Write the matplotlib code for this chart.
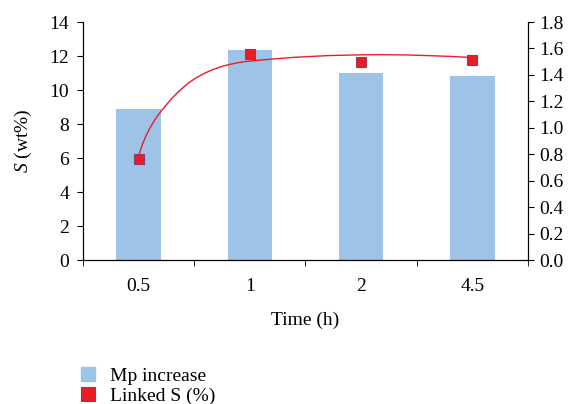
import matplotlib
matplotlib.use('Agg')
import matplotlib.pyplot as plt
from matplotlib.lines import Line2D

plt.rcParams['font.family'] = ['Liberation Serif', 'DejaVu Serif']
plt.rcParams['font.size'] = 14
plt.rcParams['mathtext.fontset'] = 'custom'
plt.rcParams['mathtext.it'] = 'Liberation Serif:italic'
plt.rcParams['mathtext.rm'] = 'Liberation Serif'

# Data
times = ['0.5', '1', '2', '4.5']
mp_increase = [8.88, 12.35, 11.02, 10.82]
linked_s = [0.765, 1.558, 1.50, 1.51]

# Trend curve at several points
curve_x = [0.0, 0.033, 0.064, 0.093, 0.138, 0.183, 0.228, 0.291, 0.36, 0.441,
           0.51, 0.591, 0.66, 0.741, 0.81, 0.891, 0.96, 1.04, 1.19,
           1.40, 1.70, 1.95, 2.15, 2.40, 2.60, 2.80, 2.96, 3.0]
curve_y = [0.787, 0.872, 0.935, 0.985, 1.050, 1.105, 1.152, 1.216, 1.275, 1.334,
           1.374, 1.412, 1.438, 1.462, 1.478, 1.492, 1.501, 1.508, 1.519,
           1.533, 1.546, 1.551, 1.553, 1.551, 1.546, 1.540, 1.533, 1.53]

bar_color = '#9DC3E6'
red = '#EC1C24'
edge = '#8E3A68'

fig = plt.figure(figsize=(5.68, 4.04), dpi=100)
ax = fig.add_axes([0.1461, 0.3564, 0.7834, 0.5891])

x = range(len(times))
ax.bar(x, mp_increase, width=0.4, color=bar_color, zorder=1)
ax.set_xlim(-0.5, 3.5)
ax.set_ylim(0, 14)
ax.set_yticks(range(0, 15, 2))
ax.set_xticks(list(x))
ax.set_xticklabels(times)
ax.set_xticks([-0.5, 0.5, 1.5, 2.5, 3.5], minor=True)
ax.tick_params(axis='x', which='major', length=0, pad=13)
ax.tick_params(axis='x', which='minor', length=4, direction='out')
ax.tick_params(axis='y', length=4, direction='out', pad=6)
ax.spines['top'].set_visible(False)
ax.set_xlabel('Time (h)', labelpad=12)
ax.set_ylabel('$\\mathit{S}$ (wt%)', labelpad=11)

ax2 = ax.twinx()
ax2.set_ylim(0, 1.8)
ax2.set_yticks([i * 0.2 for i in range(10)])
ax2.set_yticklabels([f'{i * 0.2:.1f}' for i in range(10)])
ax2.tick_params(axis='y', length=4, direction='out', pad=4)
ax2.spines['top'].set_visible(False)
ax2.plot(curve_x, curve_y, color=red, lw=1.0, zorder=2)
ax2.plot(list(x), linked_s, linestyle='none', marker='s', markersize=6.5,
         markerfacecolor=red, markeredgecolor=edge, markeredgewidth=0.8, zorder=3)

handles = [
    Line2D([], [], linestyle='none', marker='s', markersize=10.5,
           markerfacecolor=bar_color, markeredgecolor=bar_color),
    Line2D([], [], linestyle='none', marker='s', markersize=10.5,
           markerfacecolor=red, markeredgecolor=edge, markeredgewidth=0.8),
]
fig.legend(handles, ['Mp increase', 'Linked S (%)'], loc='upper left',
           bbox_to_anchor=(0.122, 0.114), frameon=False, borderpad=0,
           handlelength=0.9, handletextpad=0.7, labelspacing=0.12)

fig.savefig('out.png', dpi=100)
